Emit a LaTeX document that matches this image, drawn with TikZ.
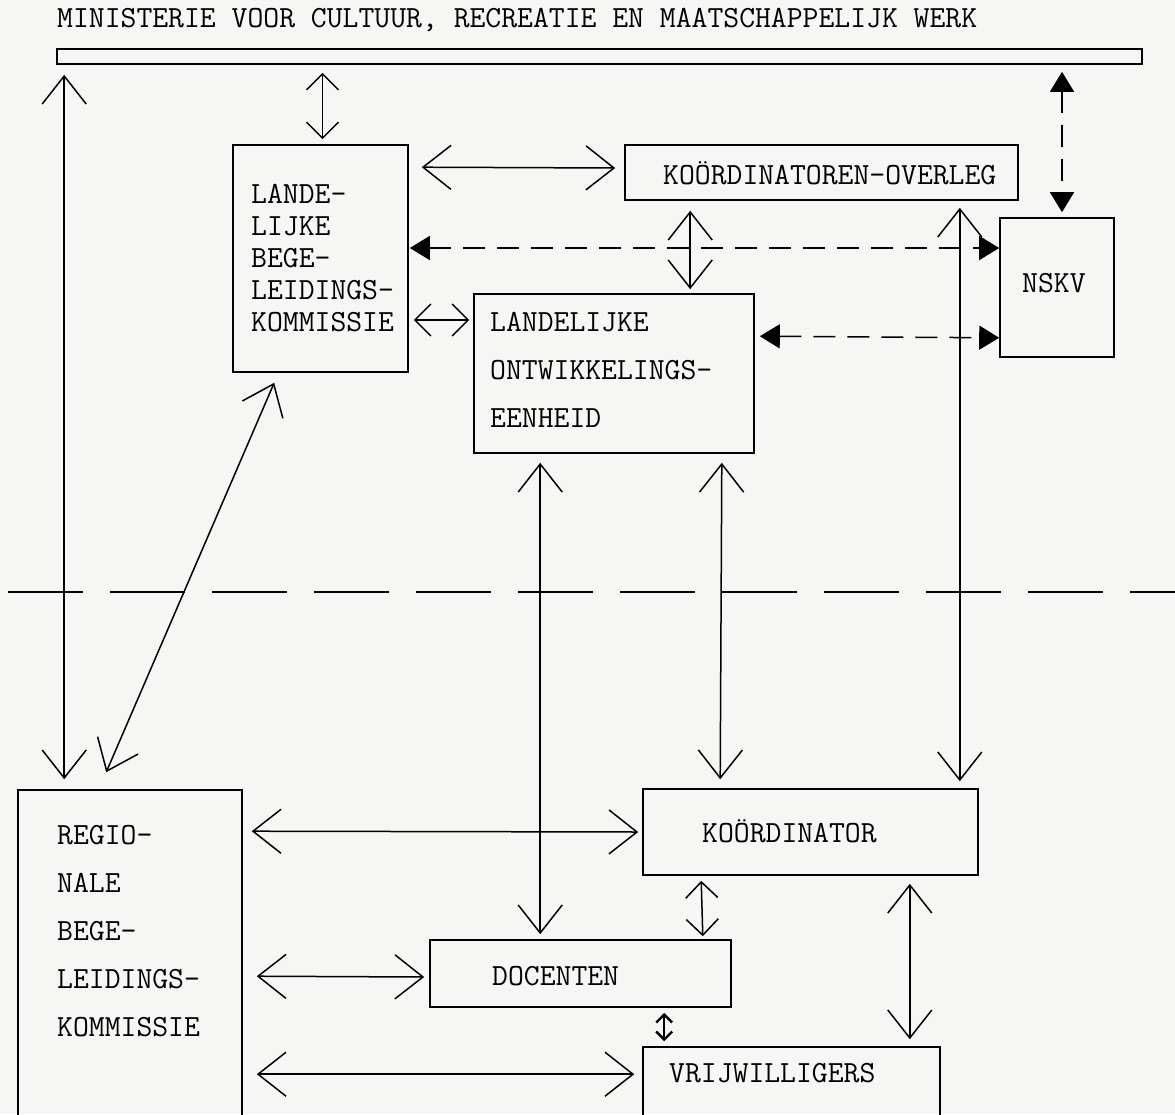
\documentclass[tikz,border=0pt]{standalone}
\usepackage{fontspec}
\usetikzlibrary{arrows.meta,calc}
\definecolor{paper}{RGB}{246,246,244}
\tikzset{
  box/.style={draw,line width=1.6pt,inner sep=0pt},
  lbl/.style={font=\ttfamily\fontsize{30.8}{32}\selectfont,inner sep=0pt,align=left},
  widelbl/.style={lbl,font=\ttfamily\fontsize{30.8}{48}\selectfont},
  both/.style={line width=1.5pt,{Straight Barb[length=28pt,width=44pt]}-{Straight Barb[length=28pt,width=44pt]}},
  bothsmall/.style={line width=1.5pt,{Straight Barb[length=16pt,width=32pt]}-{Straight Barb[length=16pt,width=32pt]}},
  bothtiny/.style={line width=2.4pt,{Straight Barb[length=8pt,width=16pt]}-{Straight Barb[length=8pt,width=16pt]}},
  dashboth/.style={line width=1.5pt,dash pattern=on 22pt off 12pt,{Triangle[length=20pt,width=24pt]}-{Triangle[length=20pt,width=24pt]}}
}
\begin{document}
\begin{tikzpicture}[x=1pt,y=-1pt]
  \fill[paper] (0,0) rectangle (1175,1114);
  \useasboundingbox (0,0) rectangle (1175,1114);
  \clip (0,0) rectangle (1175,1114);

  % Ministerie
  \node[lbl,anchor=base west] (title) at (57,27) {MINISTERIE VOOR CULTUUR, RECREATIE EN MAATSCHAPPELIJK WERK};
  \node[box,minimum width=1085pt,minimum height=15pt] (bar) at (599.5,56.5) {};

  % Landelijk niveau
  \node[box,minimum width=175pt,minimum height=227pt] (lbk) at (320.5,258.5) {};
  \node[lbl,anchor=west] (lbk-t) at (251,258.5) {LANDE-\\LIJKE\\BEGE-\\LEIDINGS-\\KOMMISSIE};
  \node[box,minimum width=393pt,minimum height=55pt] (ko) at (821.5,172.5) {};
  \node[lbl,anchor=base west] (ko-t) at (663,184.5) {KOÖRDINATOREN-OVERLEG};
  \node[box,minimum width=114pt,minimum height=139pt] (nskv) at (1057,287.5) {};
  \node[lbl,anchor=base west] (nskv-t) at (1022,292.5) {NSKV};
  \node[box,minimum width=280pt,minimum height=159pt] (loe) at (614,373.5) {};
  \node[widelbl,anchor=west] (loe-t) at (490,370) {LANDELIJKE\\ONTWIKKELINGS-\\EENHEID};

  % Regionaal niveau
  \node[box,minimum width=224pt,minimum height=360pt] (rbk) at (130,970) {};
  \node[widelbl,anchor=west] (rbk-t) at (57,931) {REGIO-\\NALE\\BEGE-\\LEIDINGS-\\KOMMISSIE};
  \node[box,minimum width=335pt,minimum height=86pt] (koord) at (810.5,832) {};
  \node[lbl,anchor=base west] (koord-t) at (702,842.5) {KOÖRDINATOR};
  \node[box,minimum width=301pt,minimum height=67pt] (doc) at (580.5,973.5) {};
  \node[lbl,anchor=base west] (doc-t) at (492,985.5) {DOCENTEN};
  \node[box,minimum width=297pt,minimum height=90pt] (vrij) at (791.5,1092) {};
  \node[lbl,anchor=base west] (vrij-t) at (669,1082.5) {VRIJWILLIGERS};

  % Scheiding landelijk / regionaal
  \draw[line width=1.6pt,dash pattern=on 75pt off 27pt] (8,592) -- (1175,592);

  % Verbindingen boven
  \draw[both] ($(bar.south west)+(8,10)$) -- ($(rbk.north west)+(47,-10)$);
  \draw[bothsmall] ($(bar.south -| lbk.north)+(2,8)$) -- ($(lbk.north)+(2,-5)$);
  \draw[both] ($(lbk.north east)+(13,23)$) -- ($(ko.west)+(-9,-4.5)$);
  \draw[dashboth] ($(lbk.east)+(1,-10.5)$) -- ($(nskv.west)+(0,-39.5)$);
  \draw[dashboth] ($(bar.south -| nskv.north)+(5,7)$) -- ($(nskv.north)+(5,-5)$);
  \draw[both] ($(ko.south west)+(66,10)$) -- ($(loe.north west)+(217,-4)$);
  \draw[bothsmall] ($(lbk.east)+(5,61.5)$) -- ($(loe.west)+(-4,-53.5)$);
  \draw[dashboth] ($(loe.north east)+(5,43)$) -- ($(nskv.south west)+(0,-20)$);

  % Verbindingen boven - onder
  \draw[both] ($(ko.south east)+(-59,7)$) -- ($(koord.north east)+(-19,-7)$);
  \draw[both] ($(lbk.south west)+(42,10)$) -- ($(rbk.north west)+(89,-17)$);
  \draw[both] ($(loe.south west)+(67,9)$) -- ($(doc.north west)+(111,-5)$);
  \draw[both] ($(loe.south east)+(-33,9)$) -- ($(koord.north west)+(78,-9)$);

  % Verbindingen onder
  \draw[both] ($(rbk.north east)+(9,42)$) -- ($(koord.west)+(-4,0)$);
  \draw[both] ($(rbk.north east)+(14,187)$) -- ($(doc.west)+(-5,3.5)$);
  \draw[both] ($(rbk.north east)+(14,285)$) -- ($(vrij.north west)+(-8,28)$);
  \draw[bothsmall] ($(koord.south west)+(59,5)$) -- ($(doc.north east)+(-29,-3)$);
  \draw[both] ($(koord.south east)+(-69,8)$) -- ($(vrij.north east)+(-31,-7)$);
  \draw[bothtiny] ($(doc.south west)+(235,5)$) -- ($(vrij.north west)+(22,-5)$);
\end{tikzpicture}
\end{document}
